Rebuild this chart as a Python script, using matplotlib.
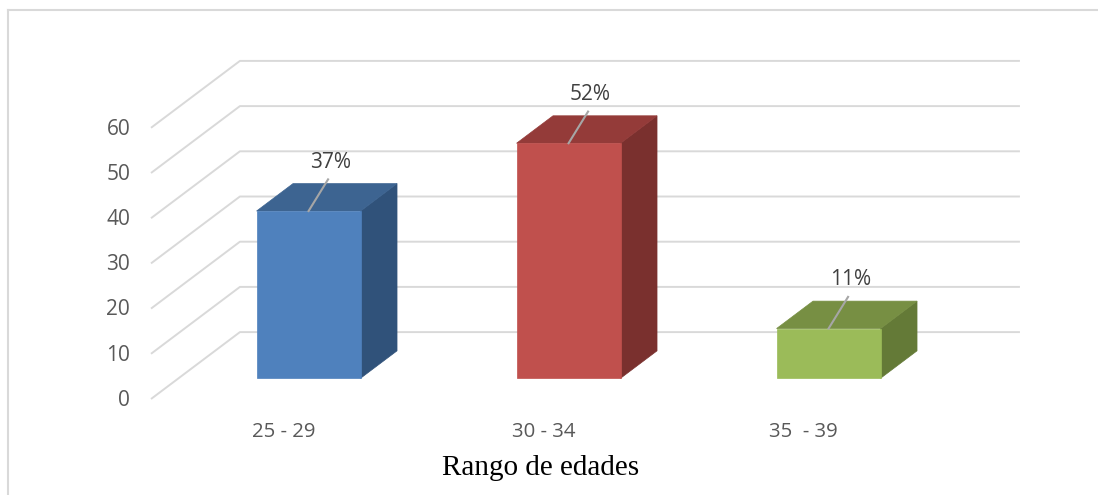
import matplotlib.pyplot as plt
from matplotlib.patches import Polygon
from matplotlib.lines import Line2D

categories = ['25 - 29', '30 - 34', '35  - 39']
values = [37, 52, 11]
value_labels = ['37%', '52%', '11%']
yticks = [0, 10, 20, 30, 40, 50, 60]

front_colors = ['#4F81BD', '#C0504D', '#9BBB59']
top_colors = ['#3D6491', '#943B39', '#778F43']
side_colors = ['#30527A', '#7A302E', '#647A37']

# oblique depth (full floor depth) expressed in data units
DX, DY = 0.342, 14.8
D0, D1 = 0.31, 0.72     # bar depth span, fraction of floor depth
BAR_W = 0.4
GRID = '#d9d9d9'
TXT = '#595959'

fig = plt.figure(figsize=(10.98, 4.95), dpi=100)
ax = fig.add_axes([0, 0, 1, 1])
ax.set_xlim(-281 / 260, (1098 - 281) / 260)
ax.set_ylim((399 - 495) / 4.52, 399 / 4.52)
ax.axis('off')

x_left = -0.5
x_right = len(categories) - 0.5

# back wall + side wall gridlines
for t in yticks:
    ax.plot([x_left, x_left + DX, x_right + DX], [t, t + DY, t + DY],
            color=GRID, lw=1.4, zorder=1, solid_capstyle='butt')
    ax.text(x_left - 0.08, t - 0.3, str(t), ha='right', va='center',
            fontsize=15, color=TXT, family='Open Sans')

# 3D bars
for i, v in enumerate(values):
    xc = i + D0 * DX
    x0, x1 = xc - BAR_W / 2, xc + BAR_W / 2
    yb, yt = D0 * DY, v + D0 * DY
    ddx, ddy = (D1 - D0) * DX, (D1 - D0) * DY
    front = Polygon([(x0, yb), (x1, yb), (x1, yt), (x0, yt)], closed=True,
                    facecolor=front_colors[i], edgecolor=front_colors[i], lw=0.5, zorder=3)
    top = Polygon([(x0, yt), (x1, yt), (x1 + ddx, yt + ddy), (x0 + ddx, yt + ddy)], closed=True,
                  facecolor=top_colors[i], edgecolor=top_colors[i], lw=0.5, zorder=3)
    side = Polygon([(x1, yb), (x1 + ddx, yb + ddy), (x1 + ddx, yt + ddy), (x1, yt)], closed=True,
                   facecolor=side_colors[i], edgecolor=side_colors[i], lw=0.5, zorder=3)
    for p in (side, top, front):
        ax.add_patch(p)

    # data label with leader line
    ax.plot([xc, xc + 0.075], [yt, yt + 7.0], color='#a6a6a6', lw=1.5, zorder=4)
    ax.text(i + 0.19, yt + 10.8, value_labels[i], ha='center', va='center',
            fontsize=15, color='#404040', family='Open Sans', zorder=5)

    ax.text(i + 0.01, -7.3, categories[i], ha='center', va='center',
            fontsize=14.7, color=TXT, family='Open Sans')

ax.text(1.0, -15.3, 'Rango de edades', ha='center', va='center',
        fontsize=21, color='black', family='Liberation Serif')

# chart frame (left and top edges visible)
fx, fy = 8 / 1098, 1 - 10 / 495
fig.add_artist(Line2D([fx, fx], [0, fy], transform=fig.transFigure, color=GRID, lw=1.5))
fig.add_artist(Line2D([fx, 1], [fy, fy], transform=fig.transFigure, color=GRID, lw=1.5))

fig.savefig('out.png', dpi=100)
